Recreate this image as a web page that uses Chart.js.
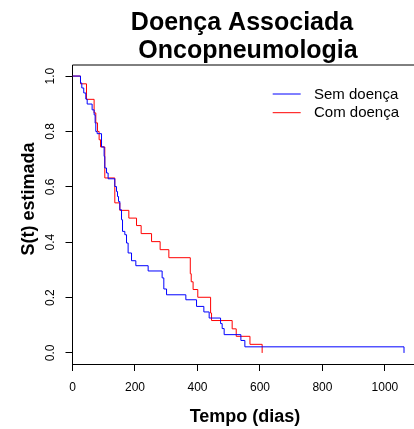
<!DOCTYPE html>
<html><head><meta charset="utf-8">
<script src="https://cdn.jsdelivr.net/npm/chart.js@4/dist/chart.umd.min.js"></script>
<style>html,body{margin:0;padding:0;background:#fff;overflow:hidden}canvas{display:block}</style>
</head><body>
<canvas id="c" width="414" height="429"></canvas>
<script>
const titleLines = ["Doença Associada", "Oncopneumologia"];
const seriesNames = ["Sem doença", "Com doença"];
const seriesColors = ["#0000ff", "#ff0000"];
const xTitle = "Tempo (dias)";
const yTitle = "S(t) estimada";
const xTicks = [0, 200, 400, 600, 800, 1000];
const xTickLabels = ["0", "200", "400", "600", "800", "1000"];
const yTicks = [0, 0.2, 0.4, 0.6, 0.8, 1.0];
const yTickLabels = ["0.0", "0.2", "0.4", "0.6", "0.8", "1.0"];

// Kaplan-Meier step points (time, estimated survival)
const semTime = [0, 25.6, 29.8, 36, 42.6, 47, 62.8, 69.2, 72.4, 74.6, 78.8, 92.9, 101.2, 103.4, 108.9, 114, 135.4, 140.9, 144, 147.3, 151.5, 156.9, 160.1, 167.5, 172.9, 178, 188.9, 202.7, 242.1, 286.9, 292.3, 301, 362.8, 397, 420.4, 437.4, 473.9, 479, 485.4, 538.9, 551.7, 1061];
const semSurv = [1, 0.975, 0.957, 0.939, 0.917, 0.899, 0.878, 0.860, 0.830, 0.800, 0.792, 0.744, 0.710, 0.668, 0.650, 0.629, 0.601, 0.583, 0.565, 0.547, 0.517, 0.481, 0.439, 0.427, 0.397, 0.361, 0.333, 0.315, 0.296, 0.271, 0.231, 0.210, 0.192, 0.168, 0.148, 0.126, 0.106, 0.088, 0.066, 0.045, 0.022, 0.0];
const comTime = [0, 25.6, 44.8, 69.2, 74.6, 80.1, 85.2, 89.7, 103.4, 135.4, 151.5, 180.3, 204.9, 219.7, 253, 280.5, 308.4, 377, 380, 386, 401, 442, 445, 511, 524, 568, 607];
const comSurv = [1, 0.972, 0.916, 0.867, 0.831, 0.800, 0.770, 0.744, 0.632, 0.542, 0.515, 0.487, 0.460, 0.431, 0.402, 0.373, 0.344, 0.286, 0.257, 0.229, 0.201, 0.144, 0.117, 0.087, 0.060, 0.031, 0.0];

const FONT = '"Liberation Sans", Arial, sans-serif';

const toPts = (t, s) => t.map((v, i) => ({x: v, y: s[i]}));

const decor = {
  id: 'decor',
  afterDraw(chart) {
    const ctx = chart.ctx, ca = chart.chartArea;
    const ys = chart.scales.y;
    ctx.save();
    // top box line
    ctx.strokeStyle = '#000'; ctx.lineWidth = 1;
    ctx.beginPath(); ctx.moveTo(ca.left, ca.top); ctx.lineTo(ca.right, ca.top); ctx.stroke();
    ctx.fillStyle = '#000';
    // title
    ctx.font = 'bold 25px ' + FONT;
    ctx.textAlign = 'center'; ctx.textBaseline = 'alphabetic';
    ctx.fillText(titleLines[0], 242, 30);
    ctx.fillText(titleLines[1], 248, 57.5);
    // y tick labels (rotated)
    ctx.font = '12px ' + FONT;
    yTicks.forEach((v, i) => {
      ctx.save();
      ctx.translate(51, ys.getPixelForValue(v));
      ctx.rotate(-Math.PI / 2);
      ctx.textAlign = 'center'; ctx.textBaseline = 'middle';
      ctx.fillText(yTickLabels[i], 0, 0);
      ctx.restore();
    });
    // axis titles
    ctx.font = 'bold 18px ' + FONT;
    ctx.textAlign = 'center'; ctx.textBaseline = 'alphabetic';
    ctx.fillText(xTitle, 245, 422);
    ctx.save();
    ctx.translate(29, 199);
    ctx.rotate(-Math.PI / 2);
    ctx.textBaseline = 'middle';
    ctx.fillText(yTitle, 0, 0);
    ctx.restore();
    // legend
    ctx.font = '15px ' + FONT;
    ctx.textAlign = 'left'; ctx.textBaseline = 'middle';
    chart.data.datasets.forEach((ds, i) => {
      const y = 94 + i * 18.7;
      ctx.strokeStyle = ds.borderColor; ctx.lineWidth = 1;
      ctx.beginPath(); ctx.moveTo(272.7, y); ctx.lineTo(300.7, y); ctx.stroke();
      ctx.fillStyle = '#000';
      ctx.fillText(ds.label, 314, y + 0.5);
    });
    ctx.restore();
  }
};

new Chart(document.getElementById('c'), {
  type: 'line',
  data: {
    datasets: [
      {label: seriesNames[0], data: toPts(semTime, semSurv), borderColor: seriesColors[0], borderWidth: 1, pointRadius: 0, stepped: 'before', fill: false},
      {label: seriesNames[1], data: toPts(comTime, comSurv), borderColor: seriesColors[1], borderWidth: 1, pointRadius: 0, stepped: 'before', fill: false}
    ]
  },
  options: {
    responsive: false,
    animation: false,
    devicePixelRatio: 1,
    events: [],
    layout: {padding: {top: 65, left: 0, right: 0, bottom: 0}},
    plugins: {legend: {display: false}, tooltip: {enabled: false}, title: {display: false}},
    scales: {
      x: {
        type: 'linear', min: 0, max: 1093,
        afterBuildTicks: s => { s.ticks = xTicks.map(v => ({value: v})); },
        afterFit: s => { s.height = 65; },
        grid: {drawOnChartArea: false, drawTicks: true, tickLength: 7, color: '#000', lineWidth: 1},
        border: {display: true, color: '#000', width: 1},
        ticks: {color: '#000', font: {family: FONT, size: 12}, padding: 9, maxRotation: 0, autoSkip: false,
          callback: (v, i) => xTickLabels[i]}
      },
      y: {
        type: 'linear', min: -0.04, max: 1.04,
        afterBuildTicks: s => { s.ticks = yTicks.map(v => ({value: v})); },
        afterFit: s => { s.width = 72.5; },
        grid: {drawOnChartArea: false, drawTicks: true, tickLength: 7, color: '#000', lineWidth: 1},
        border: {display: true, color: '#000', width: 1},
        ticks: {display: false}
      }
    }
  },
  plugins: [decor]
});
</script>
</body></html>
